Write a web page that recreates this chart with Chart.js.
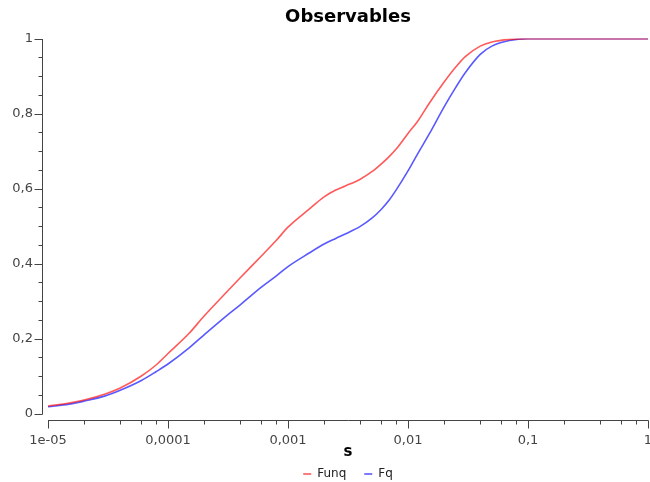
<!DOCTYPE html>
<html>
<head>
<meta charset="utf-8">
<script src="https://cdn.jsdelivr.net/npm/chart.js@4"></script>
<style>
  html, body { margin: 0; padding: 0; background: #fff; }
  #wrap { width: 650px; height: 482px; }
</style>
</head>
<body>
<div id="wrap"><canvas id="obsChart" width="650" height="482"></canvas></div>
<script>
// s values (log axis) shared by both curves
const sValues = [1e-5, 1.5e-5, 2e-5, 3e-5, 4e-5, 6e-5, 8e-5, 1e-4, 1.5e-4, 2e-4, 3e-4, 4e-4, 6e-4, 8e-4,
                 1e-3, 1.5e-3, 2e-3, 2.5e-3, 3e-3, 4e-3, 5e-3, 6e-3, 7e-3, 8e-3, 1e-2, 1.2e-2, 1.5e-2, 2e-2,
                 2.5e-2, 3e-2, 4e-2, 5e-2, 7e-2, 0.1, 0.2, 0.5, 1];
const funqValues = [0.020, 0.028, 0.036, 0.052, 0.068, 0.100, 0.130, 0.160, 0.214, 0.260, 0.320, 0.362, 0.420, 0.462,
                    0.497, 0.545, 0.578, 0.596, 0.607, 0.625, 0.645, 0.666, 0.686, 0.706, 0.747, 0.779, 0.827, 0.884,
                    0.924, 0.952, 0.980, 0.991, 0.998, 1, 1, 1, 1];
const fqValues = [0.018, 0.025, 0.033, 0.047, 0.062, 0.088, 0.112, 0.132, 0.175, 0.210, 0.258, 0.290, 0.337, 0.367,
                  0.392, 0.428, 0.452, 0.467, 0.479, 0.499, 0.521, 0.545, 0.570, 0.597, 0.647, 0.692, 0.745, 0.818,
                  0.870, 0.909, 0.958, 0.980, 0.995, 1, 1, 1, 1];

const xTickValues = [1e-5, 1e-4, 1e-3, 1e-2, 1e-1, 1];
const xTickLabels = ["1e-05", "0,0001", "0,001", "0,01", "0,1", "1"];
const yTickValues = [0, 0.2, 0.4, 0.6, 0.8, 1];
const yTickLabels = ["0", "0,2", "0,4", "0,6", "0,8", "1"];

const FONT = "'DejaVu Sans', sans-serif";

// JFreeChart-like offset axes, drawn next to the plot area
const offsetAxes = {
    id: "offsetAxes",
    afterDraw(chart) {
        const { ctx, chartArea } = chart;
        const x = chart.scales.x, y = chart.scales.y;
        ctx.save();
        ctx.strokeStyle = "#444";
        ctx.lineWidth = 1;
        ctx.beginPath();

        // y axis
        const ax = Math.round(chartArea.left) - 5.5;
        ctx.moveTo(ax, Math.round(y.getPixelForValue(1)));
        ctx.lineTo(ax, Math.round(y.getPixelForValue(0)) + 0.5);
        for (let i = 0; i <= 20; i++) {
            const v = i / 20;
            const p = Math.round(y.getPixelForValue(v)) + 0.5;
            const len = (i % 4 === 0) ? 8 : 4;
            ctx.moveTo(ax - len, p);
            ctx.lineTo(ax, p);
        }

        // x axis
        const ay = Math.round(chartArea.bottom) + 6.5;
        ctx.moveTo(Math.round(x.getPixelForValue(1e-5)), ay);
        ctx.lineTo(Math.round(x.getPixelForValue(1)) + 0.5, ay);
        xTickValues.forEach((dec, i) => {
            const p = Math.round(x.getPixelForValue(dec)) + 0.5;
            ctx.moveTo(p, ay);
            ctx.lineTo(p, ay + 8);
            if (i < xTickValues.length - 1) {
                [2, 4, 6, 8].forEach(m => {
                    const q = Math.round(x.getPixelForValue(dec * m)) + 0.5;
                    ctx.moveTo(q, ay);
                    ctx.lineTo(q, ay + 4);
                });
            }
        });
        ctx.stroke();
        ctx.restore();
    }
};

const ctx = document.getElementById("obsChart").getContext("2d");

new Chart(ctx, {
    type: "line",
    data: {
        datasets: [{
            label: "Funq",
            data: sValues.map((s, i) => ({ x: s, y: funqValues[i] })),
            borderColor: "rgba(255, 0, 0, 0.65)",
            backgroundColor: "rgba(255, 0, 0, 0.65)",
            borderWidth: 1.6,
            pointRadius: 0,
            cubicInterpolationMode: "monotone"
        }, {
            label: "Fq",
            data: sValues.map((s, i) => ({ x: s, y: fqValues[i] })),
            borderColor: "rgba(0, 0, 255, 0.65)",
            backgroundColor: "rgba(0, 0, 255, 0.65)",
            borderWidth: 1.6,
            pointRadius: 0,
            cubicInterpolationMode: "monotone"
        }]
    },
    options: {
        responsive: false,
        animation: false,
        layout: {
            padding: { top: 4, right: 2, left: 0, bottom: 0 }
        },
        scales: {
            x: {
                type: "logarithmic",
                min: 1e-5,
                max: 1,
                grid: { display: false, drawTicks: false },
                border: { display: false },
                afterBuildTicks: scale => {
                    scale.ticks = xTickValues.map(v => ({ value: v }));
                },
                afterFit: scale => {
                    scale.paddingLeft = 0;
                    scale.paddingRight = 0;
                    scale.height = 36.5;
                },
                ticks: {
                    autoSkip: false,
                    maxRotation: 0,
                    padding: 19,
                    color: "#444",
                    font: { family: FONT, size: 13 },
                    callback: value => {
                        const i = xTickValues.indexOf(value);
                        return i >= 0 ? xTickLabels[i] : "";
                    }
                },
                title: {
                    display: true,
                    text: "s",
                    color: "#000",
                    font: { family: FONT, size: 15, weight: "bold" },
                    padding: { top: 0, bottom: -11 }
                }
            },
            y: {
                min: 0,
                max: 1,
                grid: { display: false, drawTicks: false },
                border: { display: false },
                afterBuildTicks: scale => {
                    scale.ticks = yTickValues.map(v => ({ value: v }));
                },
                afterFit: scale => {
                    scale.width = 48;
                },
                ticks: {
                    padding: 15,
                    color: "#444",
                    font: { family: FONT, size: 13 },
                    callback: value => {
                        const i = yTickValues.findIndex(v => Math.abs(v - value) < 1e-9);
                        return i >= 0 ? yTickLabels[i] : "";
                    }
                }
            }
        },
        plugins: {
            title: {
                display: true,
                fullSize: false,
                text: "Observables",
                color: "#000",
                font: { family: FONT, size: 18, weight: "bold" },
                padding: { top: 3, bottom: 10 }
            },
            legend: {
                position: "bottom",
                fullSize: false,
                maxHeight: 32,
                labels: {
                    usePointStyle: true,
                    pointStyle: "line",
                    pointStyleWidth: 8,
                    padding: 18,
                    color: "#222",
                    font: { family: FONT, size: 12 }
                }
            },
            tooltip: { enabled: false }
        }
    },
    plugins: [offsetAxes]
});
</script>
</body>
</html>
